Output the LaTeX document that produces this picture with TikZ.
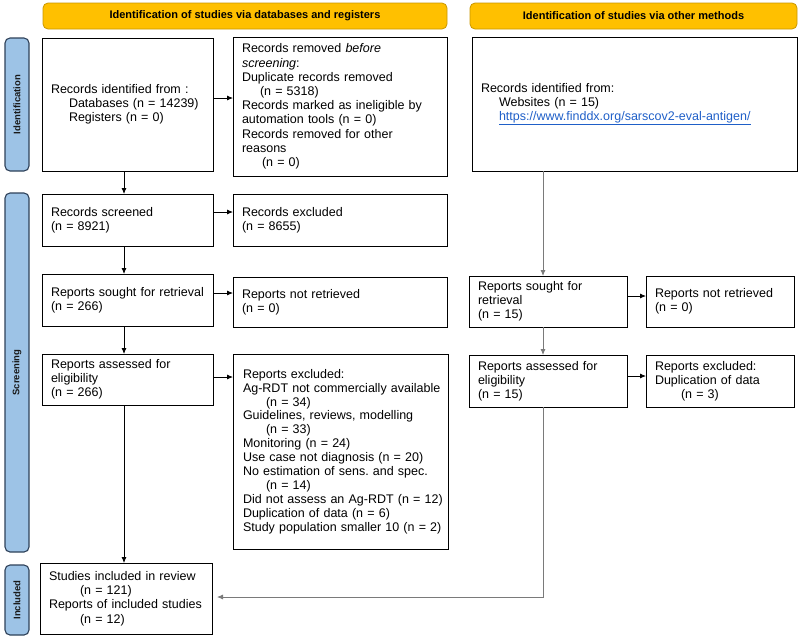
\documentclass[tikz,border=0pt]{standalone}
\usepackage{fontspec}
\setmainfont{Liberation Sans}
\usetikzlibrary{arrows.meta,calc}
\frenchspacing
\definecolor{hdrfill}{HTML}{FFC000}
\definecolor{hdrline}{HTML}{C99700}
\definecolor{sidefill}{HTML}{9DC3E6}
\definecolor{sideline}{HTML}{2E4159}
\definecolor{linkblue}{HTML}{1F5FC8}
\definecolor{connline}{HTML}{7A7A7A}
\tikzset{
  pbox/.style={draw, line width=1pt, align=left, anchor=north west, inner xsep=9pt, inner ysep=0pt, outer sep=0pt, font=\fontsize{12.5}{14.2}\selectfont, execute at begin node={\frenchspacing\rightskip=0pt plus 1fil minus 80pt\relax}},
  hdr/.style={draw=hdrline, fill=hdrfill, rounded corners=5pt, line width=0.8pt, font=\bfseries\fontsize{11}{13}\selectfont, minimum height=26pt, inner sep=0pt},
  side/.style={draw=sideline, fill=sidefill, rounded corners=5pt, line width=1.1pt, rotate=90, text=black!90, font=\bfseries\fontsize{9.5}{11}\selectfont, minimum height=24pt, inner sep=0pt},
  arr/.style={-{Latex[length=6pt,width=5pt]}, line width=0.8pt},
  garr/.style={-{Latex[length=6pt,width=5pt]}, line width=0.8pt, draw=connline},
}
\begin{document}
\begin{tikzpicture}[x=1pt,y=-1pt]
\useasboundingbox (0,0) rectangle (800,638);
% headers
\node[hdr, minimum width=404pt] (h1) at (245,16) {Identification of studies via databases and registers};
\node[hdr, minimum width=327pt] (h2) at (633.5,16) {Identification of studies via other methods};
% side labels
\node[side, minimum width=133pt] (s1) at (17,104.5) {Identification};
\node[side, minimum width=359pt] (s2) at (17,372.5) {Screening};
\node[side, minimum width=70pt] (s3) at (17,600) {Included};
% boxes left column
\node[pbox, text width=153pt, minimum height=133pt] (A) at (42,38) {Records identified from :\\
\hspace*{18pt}Databases (n = 14239)\\
\hspace*{18pt}Registers (n = 0)};
\node[pbox, text width=196pt, minimum height=139pt] (B) at (233,37) {Records removed \textit{before}\\
\textit{screening}:\\
Duplicate records removed\\
\hspace*{18pt}(n = 5318)\\
Records marked as ineligible by\\
automation tools (n = 0)\\
Records removed for other\\
reasons\\
\hspace*{20pt}(n = 0)};
\node[pbox, text width=307pt, minimum height=134pt] (C) at (472,37) {Records identified from:\\
\hspace*{18pt}Websites (n = 15)\\
\hspace*{18pt}\textcolor{linkblue}{\underline{https://www.finddx.org/sarscov2-eval-antigen/}}};
\node[pbox, text width=153pt, minimum height=52pt] (scr) at (42,194) {Records screened\\(n = 8921)};
\node[pbox, text width=196pt, minimum height=52pt] (exc) at (233,194) {Records excluded\\(n = 8655)};
\node[pbox, text width=153pt, minimum height=52pt] (sght) at (42,274) {Reports sought for retrieval\\(n = 266)};
\node[pbox, text width=196pt, minimum height=50pt] (nret) at (233,277) {Reports not retrieved\\(n = 0)};
\node[pbox, text width=153pt, minimum height=51pt] (asmt) at (42,354) {Reports assessed for\\eligibility\\(n = 266)};
\node[pbox, text width=195pt, inner xsep=10pt, minimum height=195pt, font=\fontsize{12.5}{13.9}\selectfont] (rexc) at (233,354) {Reports excluded:\\
Ag-RDT not commercially available\\
\hspace*{23pt}(n = 34)\\
Guidelines, reviews, modelling\\
\hspace*{23pt}(n = 33)\\
Monitoring (n = 24)\\
Use case not diagnosis (n = 20)\\
No estimation of sens. and spec.\\
\hspace*{23pt}(n = 14)\\
Did not assess an Ag-RDT (n = 12)\\
Duplication of data (n = 6)\\
Study population smaller 10 (n = 2)};
% right column
\node[pbox, text width=140pt, minimum height=51pt] (sght2) at (469,276) {Reports sought for\\retrieval\\(n = 15)};
\node[pbox, text width=130pt, minimum height=51pt] (nret2) at (646,276) {Reports not retrieved\\(n = 0)};
\node[pbox, text width=140pt, minimum height=52pt] (asmt2) at (469,355) {Reports assessed for\\eligibility\\(n = 15)};
\node[pbox, text width=130pt, minimum height=52pt] (rexc2) at (646,355) {Reports excluded:\\Duplication of data\\\hspace*{26pt}(n = 3)};
% included
\node[pbox, text width=154pt, minimum height=71pt] (incl) at (40,563) {Studies included in review\\
\hspace*{31pt}(n = 121)\\
Reports of included studies\\
\hspace*{31pt}(n = 12)};
% helper coordinates
\coordinate (xl) at (124,0);
\coordinate (xr) at (543,0);
\coordinate (yAB) at (0,98);
\coordinate (y1) at (0,212);
\coordinate (y2) at (0,293);
\coordinate (y3) at (0,377);
\coordinate (y4) at (0,296);
\coordinate (y5) at (0,376);
\coordinate (yb) at (0,597);
% vertical arrows left
\draw[arr] (A.south -| xl) -- (scr.north -| xl);
\draw[arr] (scr.south -| xl) -- (sght.north -| xl);
\draw[arr] (sght.south -| xl) -- (asmt.north -| xl);
\draw[arr] (asmt.south -| xl) -- (incl.north -| xl);
% horizontal arrows left
\draw[arr] (A.east |- yAB) -- (B.west |- yAB);
\draw[arr] (scr.east |- y1) -- (exc.west |- y1);
\draw[arr] (sght.east |- y2) -- (nret.west |- y2);
\draw[arr] (asmt.east |- y3) -- (rexc.west |- y3);
% right column connectors
\draw[garr] (C.south -| xr) -- (sght2.north -| xr);
\draw[garr] (sght2.south -| xr) -- (asmt2.north -| xr);
\draw[arr] (sght2.east |- y4) -- (nret2.west |- y4);
\draw[arr] (asmt2.east |- y5) -- (rexc2.west |- y5);
\draw[garr, shorten >=5pt] (asmt2.south -| xr) -- (xr |- yb) -- (incl.east |- yb);
\end{tikzpicture}
\end{document}
